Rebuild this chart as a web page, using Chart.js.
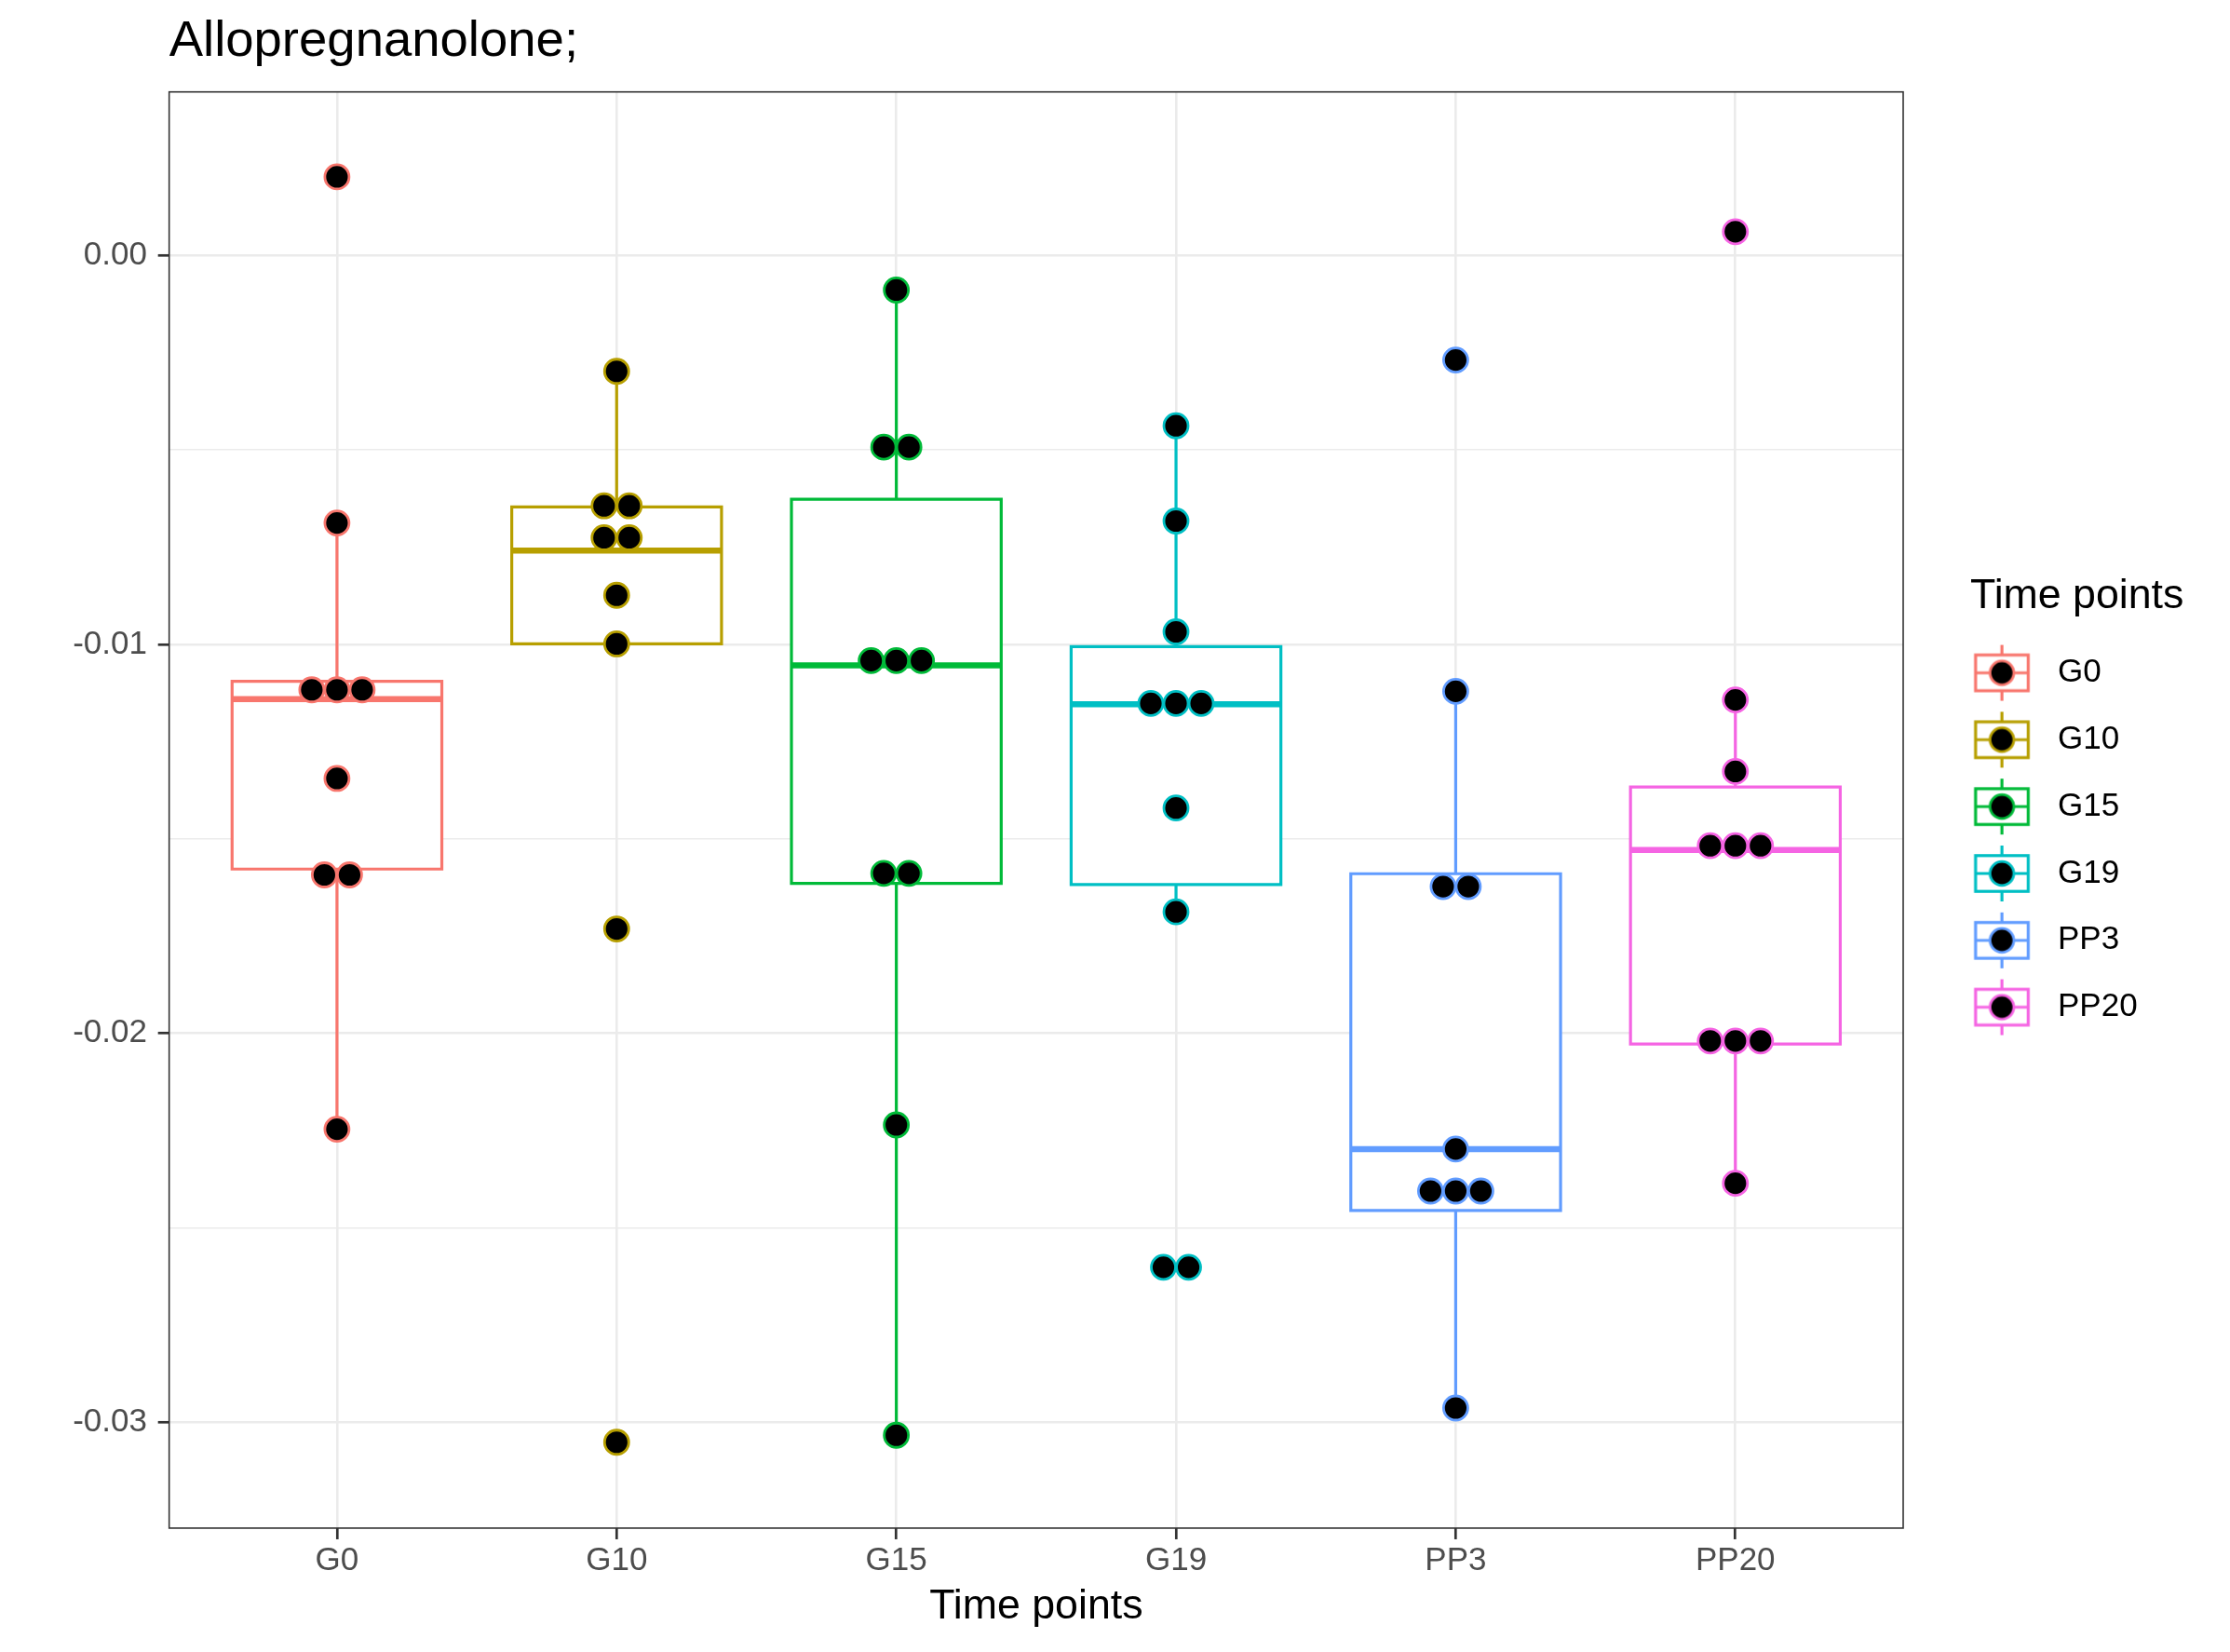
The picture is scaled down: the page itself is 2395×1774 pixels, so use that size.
<!DOCTYPE html>
<html>
<head>
<meta charset="utf-8">
<title>Allopregnanolone</title>
<script src="https://cdn.jsdelivr.net/npm/chart.js@4.4.1/dist/chart.umd.min.js"></script>
<style>
  html, body { margin: 0; padding: 0; background: #fff; }
  #wrap { width: 2395px; height: 1774px; }
</style>
</head>
<body>
<div id="wrap"><canvas id="boxChart" width="2395" height="1774"></canvas></div>
<script>
// categories + ggplot hue colours
const timePoints = ["G0", "G10", "G15", "G19", "PP3", "PP20"];
const colours = ["#F8766D", "#B79F00", "#00BA38", "#00BFC4", "#619CFF", "#F564E3"];

// individual samples per time point
const valuesG0 = [0.00202, -0.00688, -0.01117, -0.01117, -0.01117, -0.01345, -0.01593, -0.01593, -0.02247];
const valuesG10 = [-0.00298, -0.00644, -0.00644, -0.00726, -0.00726, -0.00874, -0.00999, -0.01732, -0.03052];
const valuesG15 = [-0.00089, -0.00493, -0.00493, -0.01042, -0.01042, -0.01042, -0.01589, -0.01589, -0.02236, -0.03034];
const valuesG19 = [-0.00438, -0.00683, -0.00968, -0.01152, -0.01152, -0.01152, -0.01421, -0.01688, -0.02602, -0.02602];
const valuesPP3 = [-0.00269, -0.01121, -0.01623, -0.01623, -0.02298, -0.02406, -0.02406, -0.02406, -0.02964];
const valuesPP20 = [0.00061, -0.01143, -0.01327, -0.01518, -0.01518, -0.01518, -0.0202, -0.0202, -0.0202, -0.02386];
const groupValues = [valuesG0, valuesG10, valuesG15, valuesG19, valuesPP3, valuesPP20];

// box statistics
const upperWhisker = [-0.00688, -0.00298, -0.00089, -0.00438, -0.01121, -0.01143];
const upperHinge = [-0.01095, -0.00647, -0.00627, -0.01006, -0.0159, -0.01367];
const medians = [-0.01141, -0.00759, -0.01054, -0.01154, -0.02298, -0.01529];
const lowerHinge = [-0.01578, -0.00999, -0.01615, -0.01618, -0.02456, -0.02028];
const lowerWhisker = [-0.02247, -0.00999, -0.03034, -0.01688, -0.02964, -0.02386];

// axis
const yTickLabels = [0, -0.01, -0.02, -0.03];
const yMin = -0.032728, yMax = 0.004205;

Chart.defaults.font.family = '"Liberation Sans", Arial, Helvetica, sans-serif';

const BOX_HALF = 0.375;   // ggplot width 0.75
const DOT_STEP = 0.09;    // side-by-side spacing of tied dots

// spread tied values side by side
function swarm(values) {
  return values.map((v, i) => {
    const n = values.filter(w => Math.abs(w - v) < 1e-9).length;
    const k = values.slice(0, i).filter(w => Math.abs(w - v) < 1e-9).length;
    return (k - (n - 1) / 2) * DOT_STEP;
  });
}

function isMajor(v) {
  return yTickLabels.some(t => Math.abs(t - v) < 1e-9);
}

// legend key: little boxplot with a dot
function legendKey(col) {
  const c = document.createElement('canvas');
  c.width = 110; c.height = 64;
  const g = c.getContext('2d');
  const cx = 32.35, cy = 32, hw = 28.3;
  g.strokeStyle = col;
  g.lineWidth = 3.2;
  g.beginPath();
  g.moveTo(cx, cy - 30); g.lineTo(cx, cy - 19.2);
  g.moveTo(cx, cy + 19.2); g.lineTo(cx, cy + 30);
  g.stroke();
  g.fillStyle = '#fff';
  g.fillRect(cx - hw, cy - 19.2, 2 * hw, 38.4);
  g.strokeRect(cx - hw, cy - 19.2, 2 * hw, 38.4);
  g.beginPath(); g.moveTo(cx - hw, cy); g.lineTo(cx + hw, cy); g.stroke();
  g.beginPath();
  g.arc(cx, cy, 12.8, 0, 2 * Math.PI);
  g.fillStyle = '#000'; g.fill();
  g.lineWidth = 2.8; g.stroke();
  return c;
}
const keyImages = colours.map(legendKey);

const datasets = [];
timePoints.forEach((name, i) => {
  const x = i + 1;
  const col = colours[i];
  datasets.push({
    type: 'line', label: name + ' whiskers', order: 4,
    data: [{x: x, y: upperWhisker[i]}, {x: x, y: upperHinge[i]}, {x: x, y: null},
           {x: x, y: lowerHinge[i]}, {x: x, y: lowerWhisker[i]}],
    borderColor: col, borderWidth: 3.2, pointRadius: 0, fill: false
  });
  datasets.push({
    type: 'line', label: name + ' box', order: 3,
    data: [{x: x - BOX_HALF, y: lowerHinge[i]}, {x: x - BOX_HALF, y: upperHinge[i]},
           {x: x + BOX_HALF, y: upperHinge[i]}, {x: x + BOX_HALF, y: lowerHinge[i]},
           {x: x - BOX_HALF, y: lowerHinge[i]}, {x: x - BOX_HALF, y: upperHinge[i]}],
    borderColor: col, backgroundColor: '#fff', fill: 'shape', borderWidth: 3.2, pointRadius: 0
  });
  datasets.push({
    type: 'line', label: name + ' median', order: 2,
    data: [{x: x - BOX_HALF, y: medians[i]}, {x: x + BOX_HALF, y: medians[i]}],
    borderColor: col, borderWidth: 6.5, pointRadius: 0, fill: false
  });
  const offs = swarm(groupValues[i]);
  datasets.push({
    type: 'scatter', label: name, order: 1,
    data: groupValues[i].map((v, j) => ({x: x + offs[j], y: v})),
    backgroundColor: '#000', borderColor: col, borderWidth: 2.8,
    pointRadius: 13, pointHoverRadius: 13
  });
});

const panelBorder = {
  id: 'panelBorder',
  afterDatasetsDraw(chart) {
    const {ctx, chartArea: a} = chart;
    ctx.save();
    ctx.strokeStyle = '#333333';
    ctx.lineWidth = 1.6;
    ctx.strokeRect(a.left, a.top, a.right - a.left, a.bottom - a.top);
    ctx.restore();
  }
};

// legend box is clipped to its own width, keep room for the title
const legendRoom = {
  id: 'legendRoom',
  beforeInit(chart) {
    const lg = chart.legend;
    if (!lg) return;
    const fit = lg.fit;
    lg.fit = function() {
      fit.call(this);
      this.width = Math.max(this.width, 279);
    };
  }
};

new Chart(document.getElementById('boxChart'), {
  type: 'scatter',
  data: { datasets: datasets },
  plugins: [panelBorder, legendRoom],
  options: {
    responsive: false,
    animation: false,
    events: [],
    layout: { padding: { left: 66.5, top: 0, right: 0, bottom: 21.3 } },
    plugins: {
      tooltip: { enabled: false },
      title: {
        display: true, text: 'Allopregnanolone;', align: 'start', fullSize: false,
        color: '#000', font: { size: 54.5, weight: 'normal' },
        padding: { top: 12, bottom: 21.3 }
      },
      legend: {
        position: 'right',
        align: 'center',
        title: {
          display: true, text: 'Time points', position: 'start', color: '#000',
          font: { size: 44.7, lineHeight: 1.15 }, padding: { top: 1, bottom: -1 }
        },
        labels: {
          usePointStyle: true,
          pointStyleWidth: 39.7,
          padding: 36.8,
          color: '#000',
          font: { size: 35 },
          generateLabels: () => timePoints.map((name, i) => ({
            text: name, pointStyle: keyImages[i], fillStyle: '#000',
            strokeStyle: colours[i], lineWidth: 0, hidden: false,
            fontColor: '#000', datasetIndex: i * 4 + 3
          }))
        }
      }
    },
    scales: {
      x: {
        type: 'linear', min: 0.4, max: 6.6,
        border: { display: false },
        grid: { color: '#EBEBEB', lineWidth: 2.6, tickColor: '#333333', tickWidth: 2.7, tickLength: 12 },
        ticks: {
          stepSize: 1, autoSkip: false, includeBounds: false, maxRotation: 0,
          padding: 2.7, color: '#4D4D4D', font: { size: 35 },
          callback: v => timePoints[Math.round(v) - 1] || ''
        },
        title: {
          display: true, text: 'Time points', color: '#000',
          font: { size: 44.7 }, padding: { top: -1.3, bottom: 0 }
        }
      },
      y: {
        type: 'linear', min: yMin, max: yMax,
        border: { display: false },
        grid: {
          color: '#EBEBEB',
          lineWidth: c => isMajor(c.tick.value) ? 2.6 : 1.5,
          tickColor: c => isMajor(c.tick.value) ? '#333333' : 'rgba(0,0,0,0)',
          tickWidth: 2.7, tickLength: 12
        },
        ticks: {
          stepSize: 0.005, includeBounds: false, padding: 11.7,
          color: '#4D4D4D', font: { size: 35 },
          callback: v => isMajor(v) ? (Math.abs(v) < 1e-12 ? '0.00' : v.toFixed(2)) : ''
        }
      },
      spacer: {
        type: 'linear', position: 'right', display: true,
        grid: { display: false, drawTicks: false },
        border: { display: false },
        ticks: { display: false },
        afterFit: s => { s.width = 72; }
      }
    }
  }
});
</script>
</body>
</html>
